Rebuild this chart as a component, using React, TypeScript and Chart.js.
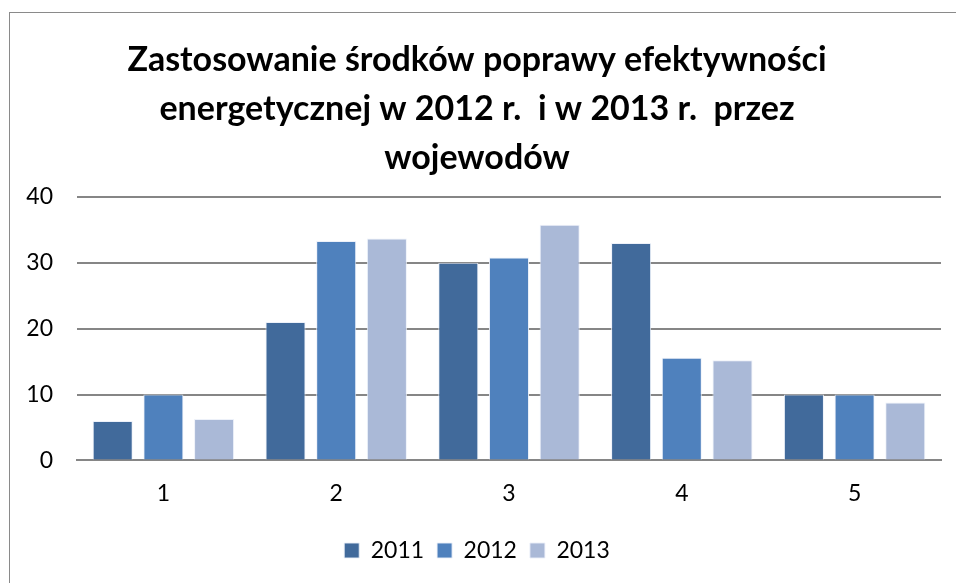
import React, { useEffect, useRef } from "react";
import { Chart, registerables } from "chart.js";

Chart.register(...registerables);

const categories = ["1", "2", "3", "4", "5"];
const series2011 = [6, 21, 30, 33, 10];
const series2012 = [10, 33.3, 30.8, 15.6, 10];
const series2013 = [6.3, 33.7, 35.8, 15.2, 8.8];
const seriesLabels = ["2011", "2012", "2013"];
const seriesColors = ["#416A9B", "#4F81BD", "#AAB9D7"];
const titleLines = [
  "Zastosowanie środków poprawy efektywności",
  "energetycznej w 2012 r.  i w 2013 r.  przez",
  "wojewodów",
];

export default function App() {
  const ref = useRef<HTMLCanvasElement | null>(null);
  useEffect(() => {
    if (!ref.current) return;
    const font = "Lato, 'Open Sans', sans-serif";
    const chart = new Chart(ref.current, {
      type: "bar",
      data: {
        labels: categories,
        datasets: [series2011, series2012, series2013].map((d, i) => ({
          label: seriesLabels[i],
          data: d,
          backgroundColor: seriesColors[i],
          borderColor: "rgba(235,240,248,0.9)",
          borderWidth: 1,
          categoryPercentage: 0.88,
          barPercentage: 0.79,
        })),
      },
      options: {
        animation: false,
        responsive: true,
        maintainAspectRatio: false,
        layout: { padding: { left: 13, right: 15, top: 12, bottom: 11 } },
        plugins: {
          title: {
            display: true,
            text: titleLines,
            color: "#000",
            font: { family: font, size: 34, weight: "bold", lineHeight: "49px" },
            padding: { top: 24, bottom: 14 },
          },
          legend: {
            display: true,
            position: "bottom",
            labels: {
              color: "#000",
              font: { family: font, size: 23 },
              boxWidth: 15,
              boxHeight: 15,
              padding: 13,
            },
          },
          tooltip: { enabled: false },
        },
        scales: {
          x: {
            grid: { display: false, drawTicks: false },
            border: { display: true, color: "#868686", width: 2 },
            ticks: { color: "#000", font: { family: font, size: 23 }, padding: 19 },
          },
          y: {
            min: 0,
            max: 40,
            afterFit: (scale: any) => {
              scale.width = 64;
            },
            grid: { color: "#868686", lineWidth: 2, drawTicks: false },
            border: { display: false },
            ticks: { stepSize: 10, color: "#000", font: { family: font, size: 23 }, padding: 24 },
          },
        },
      },
    });
    return () => chart.destroy();
  }, []);
  return (
    <div style={{ position: "fixed", left: 0, top: 0, width: 956, height: 583, background: "#fff", overflow: "hidden" }}>
      <div style={{ position: "absolute", left: 9, top: 12, width: 960, height: 600, borderLeft: "1.5px solid #8a8a8a", borderTop: "1.5px solid #8a8a8a" }} />
      <div style={{ position: "absolute", left: 0, top: 0, width: 956, height: 583 }}>
        <canvas ref={ref} />
      </div>
    </div>
  );
}
